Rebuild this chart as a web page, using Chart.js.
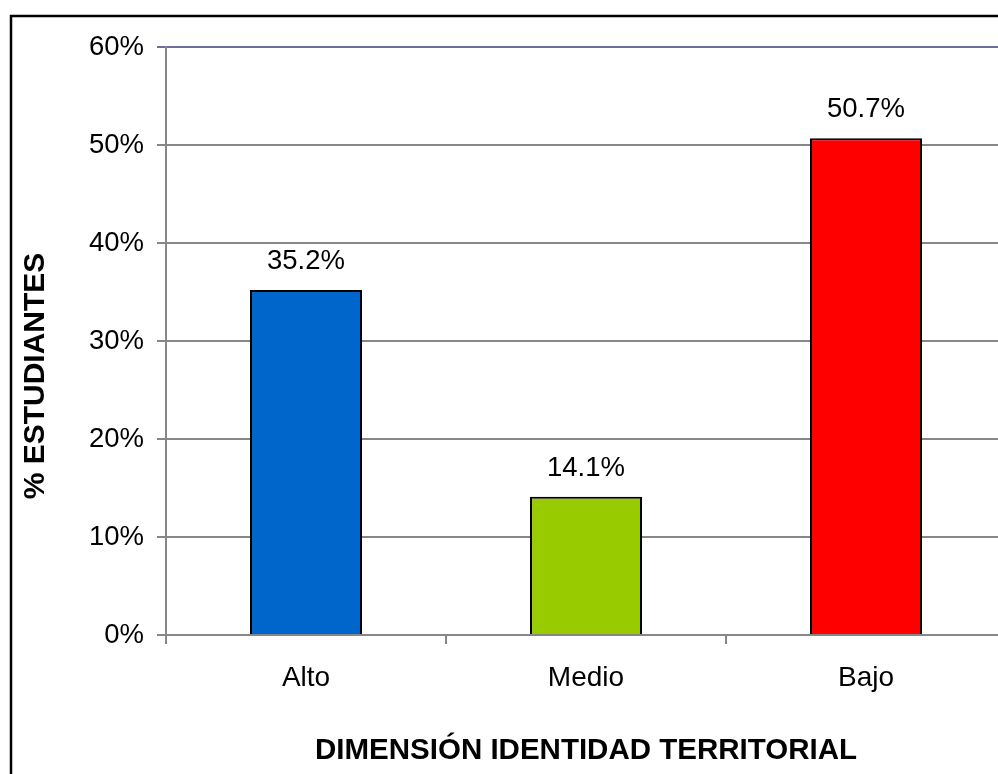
<!DOCTYPE html>
<html>
<head>
<meta charset="utf-8">
<script src="https://cdn.jsdelivr.net/npm/chart.js@4.4.1/dist/chart.umd.min.js"></script>
<style>
  html, body { margin: 0; padding: 0; background: #fff; overflow: hidden; }
  #wrap { position: absolute; left: 0; top: 0; width: 1012px; height: 774px; }
</style>
</head>
<body>
<div id="wrap"><canvas id="grafico" width="1012" height="774"></canvas></div>
<script>
const categorias = ["Alto", "Medio", "Bajo"];
const porcentajes = [35.2, 14.1, 50.7];
const colores = ["#0066CC", "#99CC00", "#FF0000"];
const tituloX = "DIMENSIÓN IDENTIDAD TERRITORIAL";
const tituloY = "% ESTUDIANTES";
const ejeYMax = 60;
const ejeYPaso = 10;

const fuente = "'Liberation Sans', Arial, sans-serif";

// marco negro alrededor del gráfico
const marco = {
  id: "marco",
  beforeDraw(chart) {
    const ctx = chart.ctx;
    ctx.save();
    ctx.strokeStyle = "#000";
    ctx.lineWidth = 2.5;
    ctx.strokeRect(11, 16, 1200, 1000);
    ctx.restore();
  }
};

// etiquetas de valor sobre las barras
const etiquetas = {
  id: "etiquetas",
  afterDatasetsDraw(chart) {
    const ctx = chart.ctx;
    const meta = chart.getDatasetMeta(0);
    ctx.save();
    ctx.fillStyle = "#000";
    ctx.font = "27.5px " + fuente;
    ctx.textAlign = "center";
    ctx.textBaseline = "alphabetic";
    meta.data.forEach((bar, i) => {
      ctx.fillText(porcentajes[i].toFixed(1) + "%", bar.x, bar.y - 21);
    });
    ctx.restore();
  }
};

// título vertical del eje Y
const tituloVertical = {
  id: "tituloVertical",
  afterDraw(chart) {
    const ctx = chart.ctx;
    ctx.save();
    ctx.translate(36, 376);
    ctx.rotate(-Math.PI / 2);
    ctx.fillStyle = "#000";
    ctx.font = "bold 30px " + fuente;
    ctx.textAlign = "center";
    ctx.textBaseline = "middle";
    ctx.fillText(tituloY, 0, 0);
    ctx.restore();
  }
};

new Chart(document.getElementById("grafico"), {
  type: "bar",
  data: {
    labels: categorias,
    datasets: [{
      data: porcentajes,
      backgroundColor: colores,
      borderColor: "#000",
      borderWidth: 2,
      barPercentage: 0.4,
      categoryPercentage: 1
    }]
  },
  options: {
    responsive: false,
    animation: false,
    layout: { padding: { left: 0, top: 47, right: 6, bottom: 0 } },
    plugins: {
      legend: { display: false },
      tooltip: { enabled: false }
    },
    scales: {
      x: {
        offset: true,
        grid: {
          offset: true,
          drawOnChartArea: false,
          drawTicks: true,
          tickLength: 9,
          color: "#878787",
          lineWidth: 2
        },
        border: { display: true, color: "#878787", width: 2 },
        ticks: { color: "#000", font: { size: 28, family: fuente }, padding: 17 },
        title: {
          display: true,
          text: tituloX,
          color: "#000",
          font: { size: 29.5, weight: "bold", family: fuente },
          padding: { top: 0, bottom: 5 }
        },
        afterFit(scale) { scale.height = 139; }
      },
      y: {
        min: 0,
        max: ejeYMax,
        ticks: {
          stepSize: ejeYPaso,
          color: "#000",
          font: { size: 27.5, family: fuente },
          padding: 13,
          callback: v => v + "%"
        },
        grid: {
          color: ctx => ctx.tick && ctx.tick.value === ejeYMax ? "#6E6E9E" : "#878787",
          lineWidth: 2,
          tickLength: 9
        },
        border: { display: true, color: "#878787", width: 2 },
        afterFit(scale) { scale.width = 166; }
      }
    }
  },
  plugins: [marco, etiquetas, tituloVertical]
});
</script>
</body>
</html>
